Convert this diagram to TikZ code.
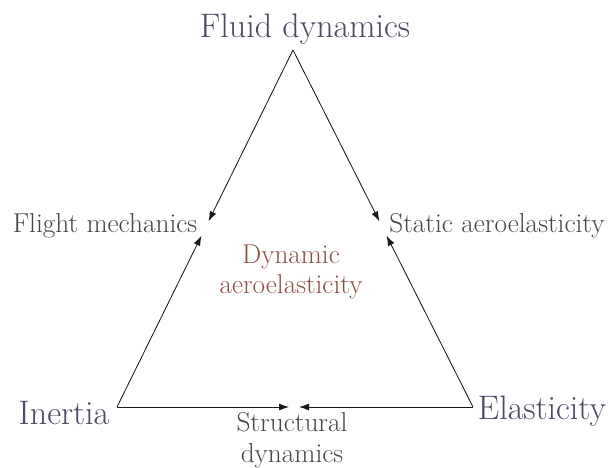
\documentclass[tikz,border=0pt]{standalone}
\usepackage{fontspec}
\usetikzlibrary{arrows.meta}
\definecolor{vtx}{HTML}{4A4A62}
\definecolor{mid}{HTML}{454545}
\definecolor{ctr}{HTML}{8E4E44}
\begin{document}
\begin{tikzpicture}[x=1pt,y=-1pt,
  vlabel/.style={text=vtx,font=\fontsize{34}{38}\selectfont,inner sep=0pt},
  mlabel/.style={text=mid,font=\fontsize{27.3}{30.5}\selectfont,inner sep=0pt,align=center},
  clabel/.style={text=ctr,font=\fontsize{27.2}{30.5}\selectfont,inner sep=0pt,align=center},
  conn/.style={-{Latex[length=10pt,width=7pt]},line width=0.85pt,draw=black!90}]
\useasboundingbox (0,0) rectangle (608,467);
\coordinate (T) at (293,50);
\coordinate (I) at (117,407);
\coordinate (E) at (473,407);
\coordinate (ML) at (205,228.5);
\coordinate (MR) at (383,228.5);
\coordinate (MB) at (294,407);
\node[vlabel] (fluid) at (305,29) {Fluid dynamics};
\node[vlabel] (inertia) at (64,413) {Inertia};
\node[vlabel] (elast) at (542,411) {Elasticity};
\node[mlabel] (flight) at (105,226) {Flight mechanics};
\node[mlabel] (static) at (497,226) {Static aeroelasticity};
\node[mlabel] (struct) at (292,440) {Structural\\dynamics};
\node[clabel] (dyn) at (291,272) {Dynamic\\aeroelasticity};
\draw[conn,shorten >=8pt] (T) -- (ML);
\draw[conn,shorten >=8pt] (T) -- (MR);
\draw[conn,shorten >=8pt] (I) -- (ML);
\draw[conn,shorten >=8pt] (E) -- (MR);
\draw[conn,shorten >=5pt] (I) -- (MB);
\draw[conn,shorten >=5pt] (E) -- (MB);
\end{tikzpicture}
\end{document}
